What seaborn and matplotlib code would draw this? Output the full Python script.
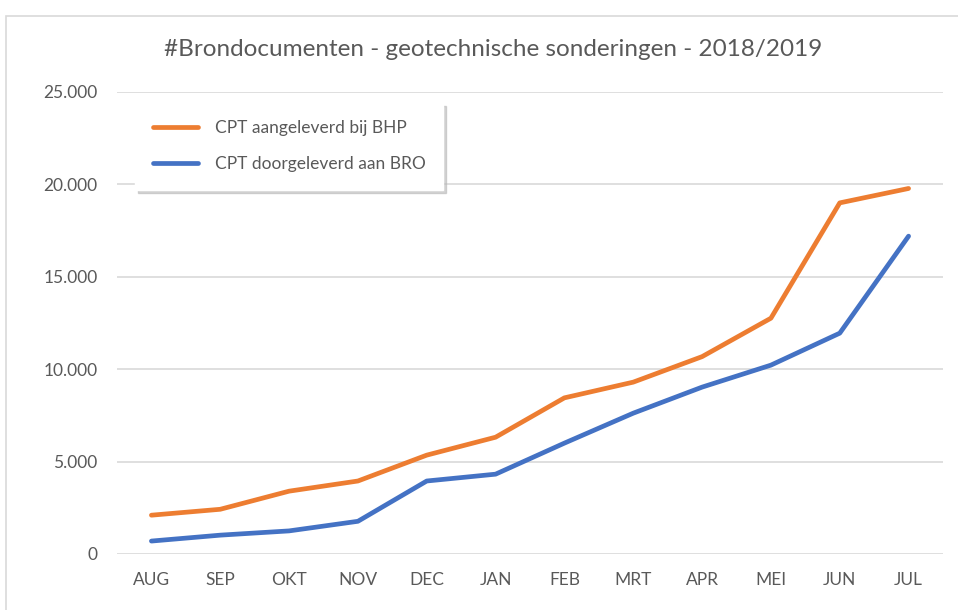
import pandas as pd
import seaborn as sns
import matplotlib.pyplot as plt
from matplotlib.patches import Rectangle
from matplotlib.ticker import FuncFormatter

months = ['AUG', 'SEP', 'OKT', 'NOV', 'DEC', 'JAN', 'FEB', 'MRT', 'APR', 'MEI', 'JUN', 'JUL']
aangeleverd = [2100, 2420, 3400, 3950, 5350, 6320, 8450, 9300, 10680, 12760, 19000, 19780]
doorgeleverd = [700, 1020, 1250, 1770, 3950, 4320, 6000, 7620, 9030, 10220, 11950, 17200]
series_names = ['CPT aangeleverd bij BHP', 'CPT doorgeleverd aan BRO']
series_colors = ['#ED7D31', '#4472C4']

df = pd.DataFrame({
    'maand': months * 2,
    'aantal': aangeleverd + doorgeleverd,
    'serie': [series_names[0]] * len(months) + [series_names[1]] * len(months),
})

sns.set_style('white')
plt.rcParams['font.family'] = ['Lato', 'DejaVu Sans']
text_grey = '#595959'

fig = plt.figure(figsize=(9.58, 6.10), dpi=100)
# chart frame (screenshot of an Excel chart area)
fig.patches.append(Rectangle((6 / 958, -0.1), 1.1, (610 - 16) / 610 + 0.1, transform=fig.transFigure,
                             fill=False, edgecolor='#d9d9d9', linewidth=1.2))
ax = fig.add_axes([117 / 958, 56 / 610, 826 / 958, 462 / 610])

sns.lineplot(data=df, x='maand', y='aantal', hue='serie', palette=series_colors,
             linewidth=3.4, sort=False, ax=ax)
for line in ax.lines:
    line.set_solid_capstyle('round')
    line.set_solid_joinstyle('round')

ax.set_xlim(-0.5, len(months) - 0.5)
ax.set_ylim(0, 25000)
ax.set_yticks(range(0, 25001, 5000))
ax.yaxis.set_major_formatter(FuncFormatter(lambda v, p: f'{int(v):,}'.replace(',', '.')))
ax.grid(axis='y', color='#d9d9d9', linewidth=1.2)
ax.set_axisbelow(True)
sns.despine(ax=ax, left=True, bottom=True, top=True, right=True)
ax.tick_params(axis='both', length=0, labelsize=12.5, colors=text_grey, pad=13)
ax.tick_params(axis='y', pad=14)
ax.set_xlabel('')
ax.set_ylabel('')

leg = ax.legend(loc='upper left', bbox_to_anchor=(0.022, 0.976), borderaxespad=0, frameon=True,
                shadow={'color': '#b8b8b8', 'alpha': 0.6}, fancybox=False, fontsize=12.5,
                handlelength=2.6, handletextpad=1.0, labelspacing=1.15, borderpad=1.0)
leg.get_frame().set_edgecolor('white')
for t in leg.get_texts():
    t.set_color(text_grey)

fig.text(493 / 958, 1 - 50 / 610, '#Brondocumenten - geotechnische sonderingen - 2018/2019',
         ha='center', va='center', fontsize=17.5, color=text_grey)

fig.savefig('out.png', dpi=100)
